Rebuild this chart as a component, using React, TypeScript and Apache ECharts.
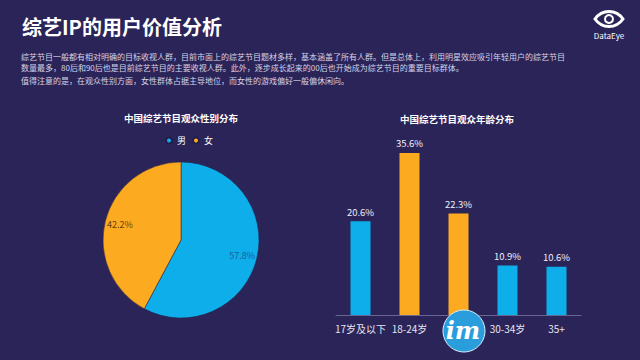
import React, { useEffect, useRef } from "react";
import * as echarts from "echarts";

const genderNames = ["男", "女"];
const genderValues = [57.8, 42.2];
const ageCategories = ["17岁及以下", "18-24岁", "25-29岁", "30-34岁", "35+"];
const ageValues = [20.6, 35.6, 22.3, 10.9, 10.6];
const ageHighlight = [false, true, true, false, false];

const BG = "#2b2459";
const BLUE = "#0daeea";
const ORANGE = "#fcab20";
const FONT = "'Noto Sans CJK SC', 'Noto Sans', sans-serif";

const para = [
  "综艺节目一般都有相对明确的目标收视人群，目前市面上的综艺节目题材多样，基本涵盖了所有人群。但是总体上，利用明星效应吸引年轻用户的综艺节目",
  "数量最多，80后和90后也是目前综艺节目的主要收视人群。此外，逐步成长起来的00后也开始成为综艺节目的重要目标群体。",
  "值得注意的是，在观众性别方面，女性群体占据主导地位，而女性的游戏偏好一般偏休闲向。",
];

let registered = false;

export default function App() {
  const ref = useRef<HTMLDivElement>(null);
  useEffect(() => {
    if (!ref.current) return;
    if (!registered) {
      echarts.graphic.registerShape(
        "eyeShape",
        echarts.graphic.extendPath("M0,0 C7,-10 21,-10 28,0 C21,10 7,10 0,0 Z", {})
      );
      registered = true;
    }
    const chart = echarts.init(ref.current, null, { renderer: "svg" });
    const pieData = genderNames.map((n, i) => ({ name: n, value: genderValues[i] }));
    chart.setOption({
      animation: false,
      backgroundColor: BG,
      textStyle: { fontFamily: FONT },
      color: [BLUE, ORANGE],
      legend: {
        data: genderNames,
        left: 160,
        top: 131,
        icon: "circle",
        itemWidth: 6,
        itemHeight: 6,
        itemGap: 6,
        textStyle: { color: "#ffffff", fontSize: 9, fontFamily: FONT },
      },
      grid: { left: 336, width: 245, top: 133, bottom: 45, containLabel: false },
      xAxis: {
        type: "category",
        data: ageCategories,
        axisLine: { lineStyle: { color: "#6a6694", width: 1 } },
        axisTick: { show: false },
        axisLabel: {
          color: "#e6e6f2",
          fontSize: 10,
          margin: 8,
          fontFamily: FONT,
          interval: (index: number) => index !== 2,
        },
      },
      yAxis: {
        type: "value",
        min: 0,
        max: 40,
        show: false,
        splitLine: { show: false },
      },
      series: [
        {
          type: "pie",
          center: [181, 240],
          radius: [0, 78],
          startAngle: 90,
          clockwise: true,
          data: pieData,
          label: { show: false },
          labelLine: { show: false },
          itemStyle: { borderColor: "#231d4a", borderWidth: 0.5 },
          silent: true,
        },
        {
          type: "pie",
          center: [181, 240],
          radius: [42, 78],
          startAngle: 90,
          clockwise: true,
          silent: true,
          data: pieData.map((d, i) => ({
            ...d,
            itemStyle: { color: "rgba(0,0,0,0)" },
            label: { color: i === 0 ? "#1d5c9c" : "#6a3f10" },
          })),
          label: {
            show: true,
            position: "inside",
            formatter: "{c}%",
            fontSize: 9,
            fontFamily: FONT,
          },
          labelLine: { show: false },
        },
        {
          type: "bar",
          barWidth: 20,
          data: ageValues.map((v, i) => ({
            value: v,
            itemStyle: { color: ageHighlight[i] ? ORANGE : BLUE },
          })),
          label: {
            show: true,
            position: "top",
            distance: 5,
            formatter: "{c}%",
            color: "#eeeef8",
            fontSize: 9.5,
            fontFamily: FONT,
          },
        },
      ],
      graphic: [
        {
          type: "text",
          left: 22,
          top: 16,
          style: { text: "综艺IP的用户价值分析", fill: "#ffffff", font: `bold 20px ${FONT}` },
        },
        ...para.map((t, i) => ({
          type: "text",
          left: 21,
          top: [52, 63, 76][i],
          style: { text: t, fill: "#d4d3e6", font: `8px ${FONT}` },
        })),
        {
          type: "text",
          x: 181,
          y: 118,
          style: {
            text: "中国综艺节目观众性别分布",
            fill: "#ffffff",
            font: `bold 9.5px ${FONT}`,
            align: "center",
            verticalAlign: "middle",
          },
        },
        {
          type: "text",
          x: 457,
          y: 119,
          style: {
            text: "中国综艺节目观众年龄分布",
            fill: "#ffffff",
            font: `bold 9.5px ${FONT}`,
            align: "center",
            verticalAlign: "middle",
          },
        },
        {
          type: "eyeShape",
          x: 595,
          y: 19,
          style: { fill: "none", stroke: "#ffffff", lineWidth: 3 },
        },
        {
          type: "circle",
          shape: { cx: 609, cy: 19, r: 4 },
          style: { fill: "none", stroke: "#ffffff", lineWidth: 2 },
        },
        {
          type: "text",
          x: 609,
          y: 35,
          style: {
            text: "DataEye",
            fill: "#ffffff",
            font: `8px ${FONT}`,
            align: "center",
            verticalAlign: "middle",
          },
        },
        {
          type: "circle",
          z: 100,
          shape: { cx: 464, cy: 331, r: 21 },
          style: { fill: "#2a9ddc", stroke: "#d8eefa", lineWidth: 1 },
        },
        {
          type: "text",
          z: 101,
          x: 463,
          y: 330,
          style: {
            text: "im",
            fill: "#ffffff",
            font: "italic bold 24px 'DejaVu Serif', serif",
            align: "center",
            verticalAlign: "middle",
          },
        },
      ],
    });
    return () => chart.dispose();
  }, []);
  return (
    <div
      ref={ref}
      style={{ width: 640, height: 360, position: "absolute", left: 0, top: 0 }}
    />
  );
}
